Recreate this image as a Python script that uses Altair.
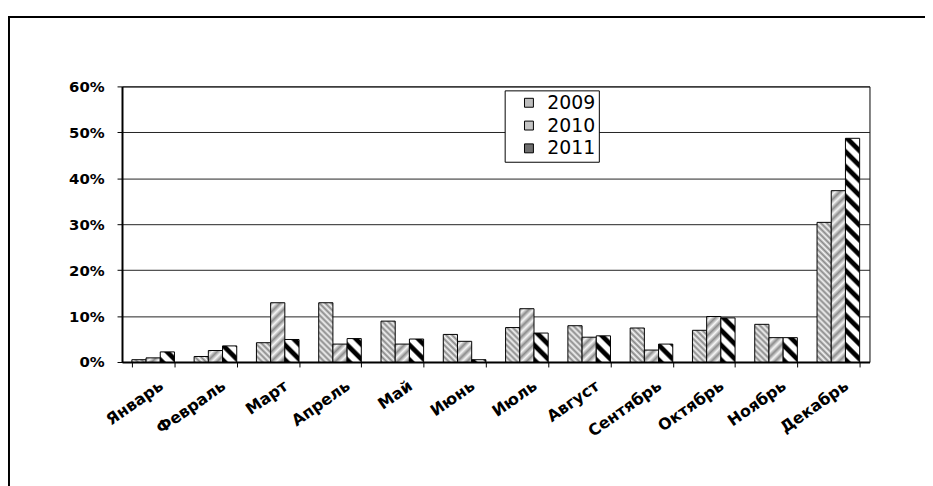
import math
import altair as alt
import pandas as pd

months = ["Январь", "Февраль", "Март", "Апрель", "Май", "Июнь", "Июль",
          "Август", "Сентябрь", "Октябрь", "Ноябрь", "Декабрь"]
years = ["2009", "2010", "2011"]
v2009 = [0.5, 1.2, 4.2, 12.9, 8.9, 6.0, 7.5, 7.9, 7.4, 6.9, 8.2, 30.4]
v2010 = [0.9, 2.5, 12.9, 3.9, 3.9, 4.5, 11.6, 5.4, 2.6, 9.9, 5.3, 37.3]
v2011 = [2.2, 3.5, 4.9, 5.1, 5.0, 0.5, 6.3, 5.7, 3.9, 9.6, 5.3, 48.7]
y_ticks = [0, 10, 20, 30, 40, 50, 60]
legend_colors = ["#bdbdbd", "#c4c4c4", "#6e6e6e"]

rows = []
for m, a, b, c in zip(months, v2009, v2010, v2011):
    for y, v in zip(years, (a, b, c)):
        rows.append({"month": m, "year": y, "value": v})
df = pd.DataFrame(rows)

PLOT_W, PLOT_H, YMAX = 754, 278, 60
PAD_IN = 0.316
BAR_W = PLOT_W / 12 * (1 - PAD_IN) / 3

# hatch styles: direction, period (px), stripe profile
hatches = {
    "2009": ("back", 6, [(0.0, "#888888"), (0.5, "#f4f4f4"), (1.0, "#888888")]),
    "2010": ("fwd", 10, [(0.0, "#8c8c8c"), (0.5, "#f6f6f6"), (1.0, "#8c8c8c")]),
    "2011": ("back", 15, [(0.0, "#000000"), (0.3, "#000000"), (0.45, "#ffffff"),
                          (0.85, "#ffffff"), (1.0, "#000000")]),
}


def hatch_fill(value, year):
    direction, period, profile = hatches[year]
    w = BAR_W
    h = max(value / YMAX * PLOT_H, 0.5)
    k = (w + h) / period
    a = w / (w + h)
    b = h / (w + h)
    n = a * a + b * b
    if direction == "back":
        x1, y1, x2, y2 = 0, 1, a / n, 1 - b / n
    else:
        x1, y1, x2, y2 = 0, 0, a / n, b / n
    stops = []
    for i in range(int(math.ceil(k)) + 1):
        for f, col in profile:
            off = (i + f) / k
            if off <= 1 and (not stops or off > stops[-1]["offset"]):
                stops.append({"offset": round(off, 5), "color": col})
    return {"gradient": "linear", "x1": round(x1, 5), "y1": round(y1, 5),
            "x2": round(x2, 5), "y2": round(y2, 5), "stops": stops}


conds = []
for r in rows:
    conds.append({
        "test": f"datum.month === '{r['month']}' && datum.year === '{r['year']}'",
        "value": hatch_fill(r["value"], r["year"]),
    })

bars = alt.Chart(df).mark_bar(stroke="black", strokeWidth=1).encode(
    x=alt.X("month:N", sort=months,
            scale=alt.Scale(paddingInner=PAD_IN, paddingOuter=PAD_IN / 2),
            axis=alt.Axis(title=None, labelAngle=-35, labelAlign="right",
                          labelBaseline="middle", labelFont="DejaVu Sans",
                          labelFontWeight="bold", labelFontSize=16,
                          labelColor="black", labelPadding=17, labelOffset=8,
                          tickBand="extent", tickSize=5, tickColor="black",
                          domainColor="black", domainWidth=2, grid=False,
                          labelOverlap=False)),
    xOffset=alt.XOffset("year:N", sort=years),
    y=alt.Y("value:Q", scale=alt.Scale(domain=[0, YMAX], nice=False),
            axis=alt.Axis(title=None, values=y_ticks,
                          labelExpr="datum.value + '%'",
                          labelFont="DejaVu Sans", labelFontWeight="bold",
                          labelFontSize=15, labelColor="black",
                          labelPadding=13, tickSize=5, tickColor="black",
                          domainColor="black", domainWidth=2,
                          gridColor="#222222", gridWidth=1)),
    fill=alt.Fill("year:N",
                  scale=alt.Scale(domain=years, range=legend_colors),
                  condition=conds,
                  legend=alt.Legend(title=None, orient="none", legendX=386,
                                    legendY=4, direction="vertical",
                                    symbolType="square", symbolSize=81,
                                    symbolStrokeColor="black",
                                    symbolStrokeWidth=1, symbolOpacity=1,
                                    labelFont="DejaVu Sans", labelFontSize=19,
                                    labelColor="black", strokeColor="black",
                                    fillColor="white", padding=3,
                                    rowPadding=3, symbolOffset=12,
                                    labelOffset=9,
                                    labelExpr="datum.label + '\u00a0\u00a0'")),
)

frame_data = alt.Data(values=[{"k": 0}])
frame_left = alt.Chart(frame_data).mark_rule(color="black", strokeWidth=2).encode(
    x=alt.value(-114), y=alt.value(-71), y2=alt.value(420))
frame_top = alt.Chart(frame_data).mark_rule(color="black", strokeWidth=2).encode(
    x=alt.value(-115), x2=alt.value(830), y=alt.value(-70))

chart = alt.layer(frame_left, frame_top, bars).properties(
    width=PLOT_W, height=PLOT_H,
    autosize=alt.AutoSizeParams(type="none"),
    padding={"left": 115, "top": 77, "right": 56, "bottom": 123},
    background="white",
).configure_view(stroke="black", strokeWidth=1)

chart.save("out.html", embed_options={"renderer": "svg", "actions": False})
